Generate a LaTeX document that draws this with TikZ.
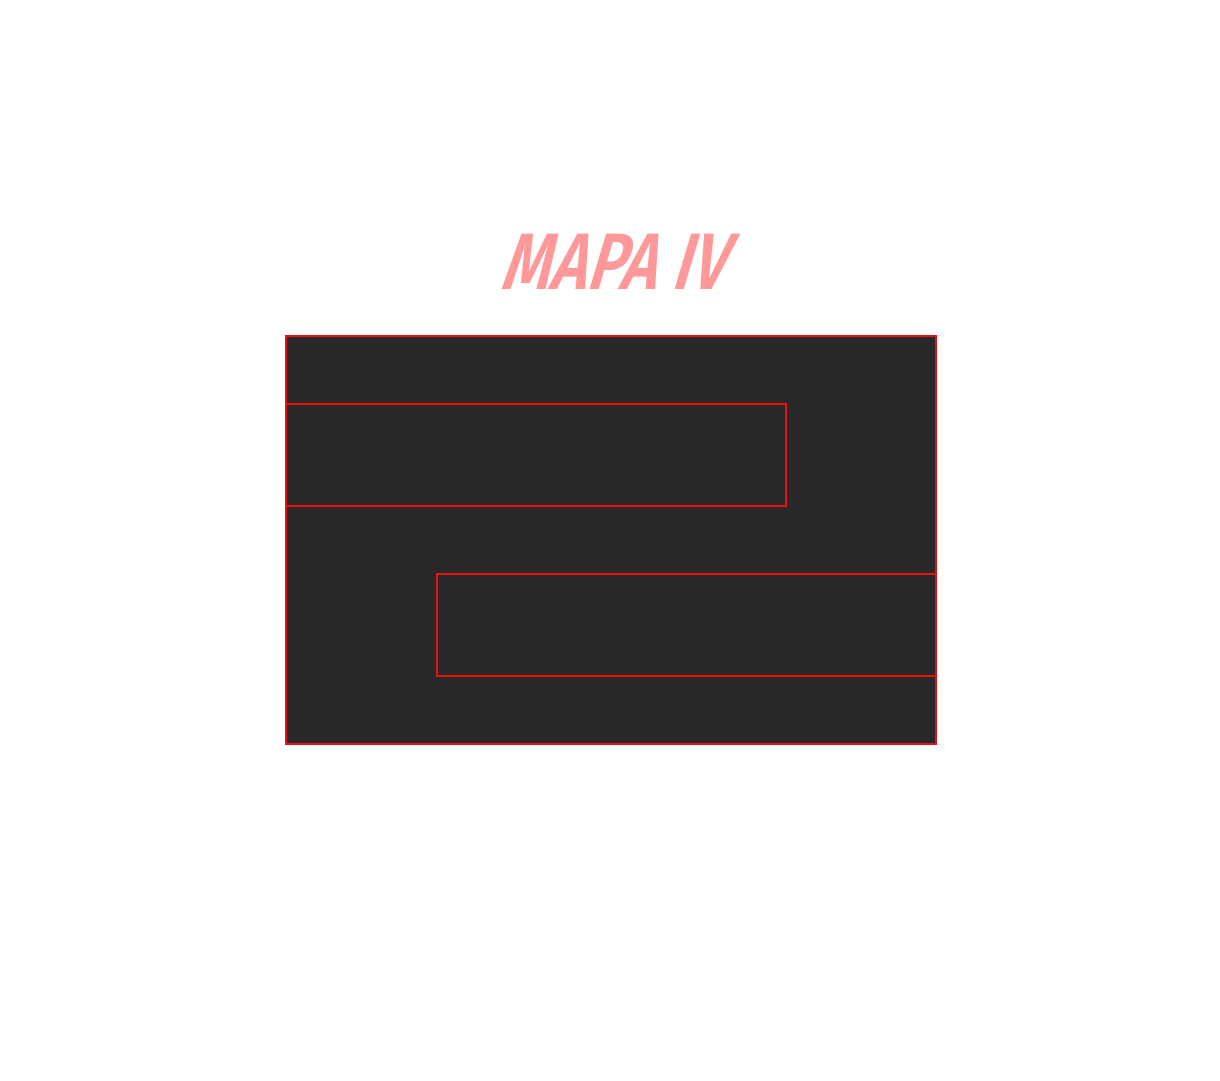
\documentclass[tikz,border=0pt]{standalone}
\usepackage{fontspec}
\setmainfont{Fira Sans}
\newfontfamily\brushfont[FakeStretch=0.78,FakeSlant=0.3]{Fira Sans SemiBold}
\definecolor{roomfill}{HTML}{282828}
\definecolor{wallred}{HTML}{E81010}
\definecolor{titlepink}{RGB}{255,153,153}
\begin{document}
\begin{tikzpicture}[x=1pt,y=-1pt,
  room/.style={draw=wallred, line width=2pt, fill=roomfill, rectangle, inner sep=0pt},
  inner/.style={draw=wallred, line width=2.4pt, rectangle, inner sep=0pt},
  titletext/.style={text=titlepink, font=\brushfont\fontsize{80}{88}\selectfont}]
\useasboundingbox (0,0) rectangle (1220,1080);
\fill[white] (0,0) rectangle (1220,1080);
\node[room, minimum width=650pt, minimum height=408pt] (outer) at (611,540) {};
\node[inner, minimum width=500pt, minimum height=102pt] (hallA) at (536,455) {};
\node[inner, minimum width=499pt, minimum height=102pt] (hallB) at (686.5,625) {};
\node[titletext] (title) at (612,262) {MAPA IV};
\end{tikzpicture}
\end{document}
